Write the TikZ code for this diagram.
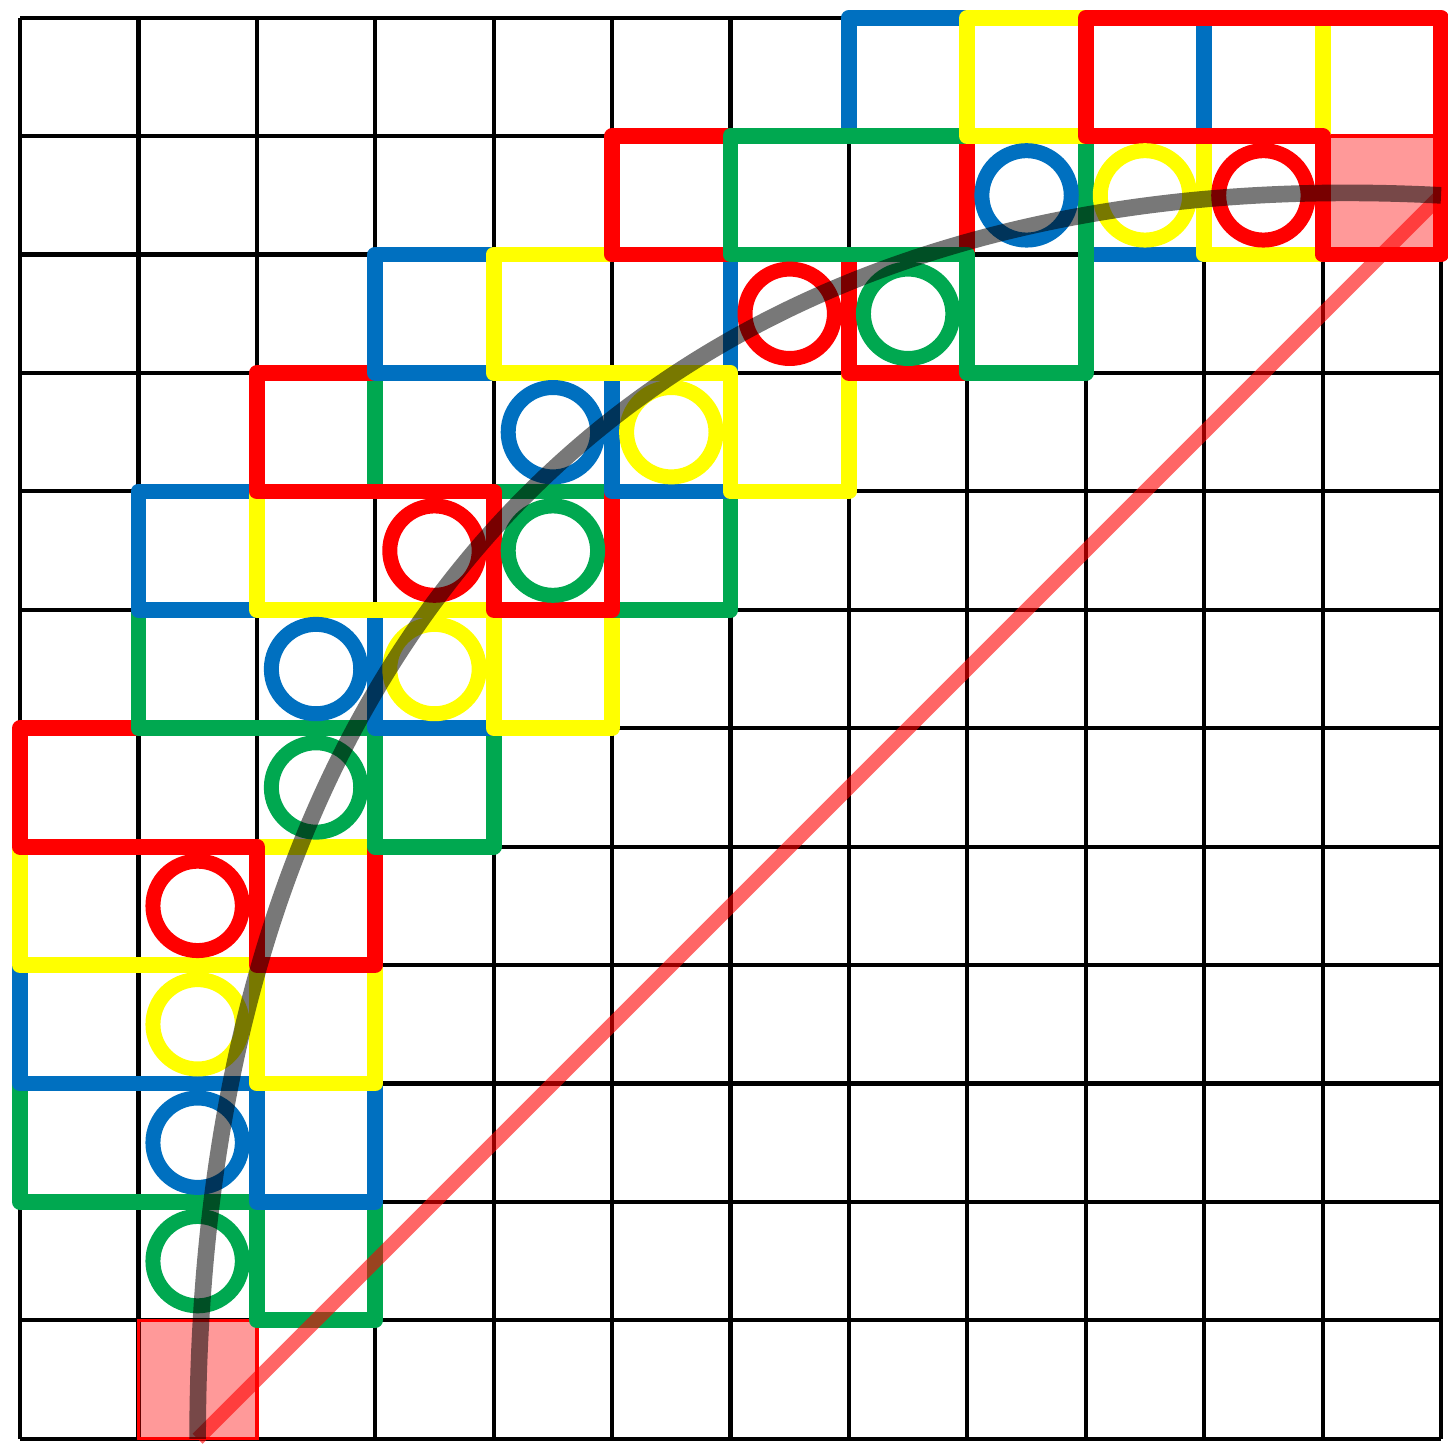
\documentclass[tikz,border=0pt]{standalone}
\usepackage{tikz}
\definecolor{stepred}{HTML}{FF0000}
\definecolor{stepgreen}{HTML}{00A850}
\definecolor{stepblue}{HTML}{0070C0}
\definecolor{stepyellow}{HTML}{FFFF00}

\begin{document}
\begin{tikzpicture}[
    gridline/.style={black, line width=1pt},
    cand/.style={line width=3.8pt, line join=round, line cap=round},
    visit/.style={circle, draw, line width=3.6pt, minimum size=0.755cm,
                  inner sep=0pt},
    endcell/.style={rectangle, draw=stepred, fill=stepred, fill opacity=0.4,
                    line width=0.8pt, minimum size=1cm, inner sep=0pt,
                    outer sep=0pt},
    route/.style={black, opacity=0.53, line width=4pt},
    direct/.style={stepred, opacity=0.6, line width=3.4pt},
]

% === Frame ===
\useasboundingbox (-0.169,-0.06) rectangle (12.059,12.15);

% === Grid ===
\draw[gridline] (0,0) grid (12,12);

% === Start and goal cells ===
\node[endcell] (start) at (1.5,0.5) {};
\node[endcell] (goal)  at (11.5,10.5) {};

% === Candidate cells of each step ===
\draw[cand, stepgreen]  (0,2) -- (0,3) -- (3,3) -- (3,1) -- (2,1) -- (2,2) -- cycle;
\draw[cand, stepblue]   (0,3) -- (0,4) -- (3,4) -- (3,2) -- (2,2) -- (2,3) -- cycle;
\draw[cand, stepyellow] (0,4) -- (0,5) -- (3,5) -- (3,3) -- (2,3) -- (2,4) -- cycle;
\draw[cand, stepred]    (0,5) -- (0,6) -- (3,6) -- (3,4) -- (2,4) -- (2,5) -- cycle;
\draw[cand, stepgreen]  (1,6) -- (1,7) -- (4,7) -- (4,5) -- (3,5) -- (3,6) -- cycle;
\draw[cand, stepblue]   (1,7) -- (1,8) -- (4,8) -- (4,6) -- (3,6) -- (3,7) -- cycle;
\draw[cand, stepyellow] (2,7) -- (2,8) -- (5,8) -- (5,6) -- (4,6) -- (4,7) -- cycle;
\draw[cand, stepgreen]  (3,8) -- (3,9) -- (6,9) -- (6,7) -- (5,7) -- (5,8) -- cycle;
\draw[cand, stepred]    (2,8) -- (2,9) -- (5,9) -- (5,7) -- (4,7) -- (4,8) -- cycle;
\draw[cand, stepblue]   (3,9) -- (3,10) -- (6,10) -- (6,8) -- (5,8) -- (5,9) -- cycle;
\draw[cand, stepyellow] (4,9) -- (4,10) -- (7,10) -- (7,8) -- (6,8) -- (6,9) -- cycle;
\draw[cand, stepred]    (5,10) -- (5,11) -- (8,11) -- (8,9) -- (7,9) -- (7,10) -- cycle;
\draw[cand, stepblue]   (7,11) -- (7,12) -- (10,12) -- (10,10) -- (9,10) -- (9,11) -- cycle;
\draw[cand, stepgreen]  (6,10) -- (6,11) -- (9,11) -- (9,9) -- (8,9) -- (8,10) -- cycle;
\draw[cand, stepyellow] (8,11) -- (8,12) -- (11,12) -- (11,10) -- (10,10) -- (10,11) -- cycle;
\draw[cand, stepred]    (9,11) -- (9,12) -- (12,12) -- (12,10) -- (11,10) -- (11,11) -- cycle;

% === Visited cells ===
\node[visit, stepgreen]  (v1)  at (1.5,1.5) {};
\node[visit, stepblue]   (v2)  at (1.5,2.5) {};
\node[visit, stepyellow] (v3)  at (1.5,3.5) {};
\node[visit, stepred]    (v4)  at (1.5,4.5) {};
\node[visit, stepgreen]  (v5)  at (2.5,5.5) {};
\node[visit, stepblue]   (v6)  at (2.5,6.5) {};
\node[visit, stepyellow] (v7)  at (3.5,6.5) {};
\node[visit, stepred]    (v8)  at (3.5,7.5) {};
\node[visit, stepgreen]  (v9)  at (4.5,7.5) {};
\node[visit, stepblue]   (v10) at (4.5,8.5) {};
\node[visit, stepyellow] (v11) at (5.5,8.5) {};
\node[visit, stepred]    (v12) at (6.5,9.5) {};
\node[visit, stepgreen]  (v13) at (7.5,9.5) {};
\node[visit, stepblue]   (v14) at (8.5,10.5) {};
\node[visit, stepyellow] (v15) at (9.5,10.5) {};
\node[visit, stepred]    (v16) at (10.5,10.5) {};

% === Straight line and curve from start to goal ===
\draw[direct] (start.south) -- (goal.east);
\draw[route] (start.south) .. controls +(0,6.8) and +(-6.7,0.35) .. (goal.east);

\end{tikzpicture}
\end{document}
